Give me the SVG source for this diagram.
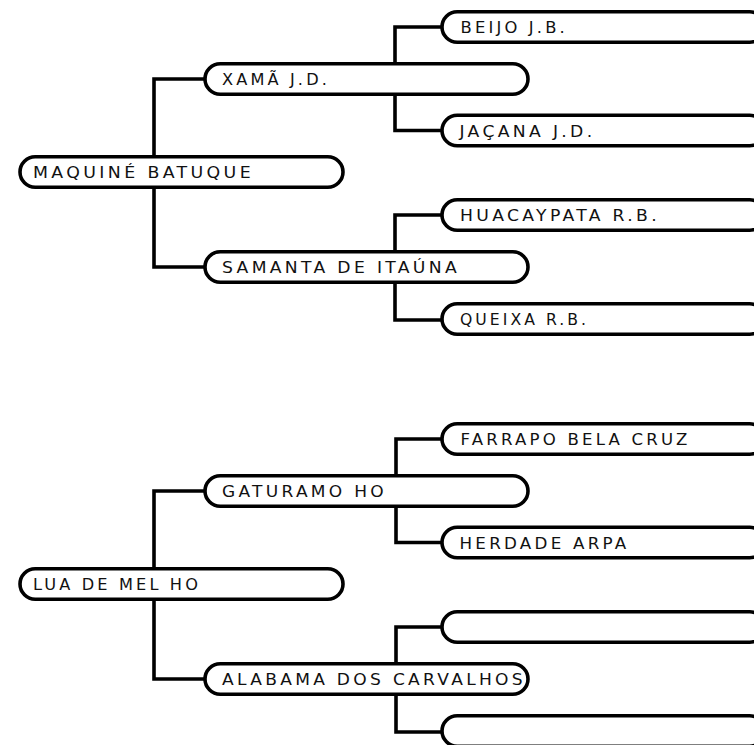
<svg xmlns="http://www.w3.org/2000/svg" width="754" height="745" viewBox="0 0 754 745">
<style>
.pill{fill:#fff;stroke:#000;stroke-width:3.6}
.lbl{font-family:"DejaVu Sans",Verdana,sans-serif;font-size:15.5px;letter-spacing:3px;fill:#111}
.con{fill:none;stroke:#000;stroke-width:3.6;stroke-linejoin:miter;stroke-linecap:square}
</style>
<rect width="754" height="745" fill="#fff"/>
<g id="connectors">
<path class="con" d="M203,79 H154 V267 H203"/>
<path class="con" d="M440,27 H395 V130.5 H440"/>
<path class="con" d="M440,215 H395 V320 H440"/>
<path class="con" d="M203,491 H154 V679 H203"/>
<path class="con" d="M440,439 H396 V542.5 H440"/>
<path class="con" d="M440,627 H396 V732 H440"/>
</g>
<g id="n-maquine"><rect class="pill" x="20" y="156.75" width="323" height="30.5" rx="15.25"/><text class="lbl" x="33" y="178" textLength="221" lengthAdjust="spacingAndGlyphs">MAQUINÉ BATUQUE</text></g>
<g id="n-xama"><rect class="pill" x="205" y="63.75" width="323" height="30.5" rx="15.25"/><text class="lbl" x="222" y="85" textLength="108" lengthAdjust="spacingAndGlyphs">XAMÃ J.D.</text></g>
<g id="n-samanta"><rect class="pill" x="205" y="251.75" width="323" height="30.5" rx="15.25"/><text class="lbl" x="222" y="273" textLength="238" lengthAdjust="spacingAndGlyphs">SAMANTA DE ITAÚNA</text></g>
<g id="n-beijo"><rect class="pill" x="442" y="11.75" width="323" height="30.5" rx="15.25"/><text class="lbl" x="460.5" y="33" textLength="107.5" lengthAdjust="spacingAndGlyphs">BEIJO J.B.</text></g>
<g id="n-jacana"><rect class="pill" x="442" y="115.25" width="323" height="30.5" rx="15.25"/><text class="lbl" x="459.5" y="136.5" textLength="136" lengthAdjust="spacingAndGlyphs">JAÇANA J.D.</text></g>
<g id="n-huacaypata"><rect class="pill" x="442" y="199.75" width="323" height="30.5" rx="15.25"/><text class="lbl" x="460" y="221" textLength="200" lengthAdjust="spacingAndGlyphs">HUACAYPATA R.B.</text></g>
<g id="n-queixa"><rect class="pill" x="442" y="303.75" width="323" height="30.5" rx="15.25"/><text class="lbl" x="460" y="325" textLength="129" lengthAdjust="spacingAndGlyphs">QUEIXA R.B.</text></g>
<g id="n-lua"><rect class="pill" x="20" y="568.75" width="323" height="30.5" rx="15.25"/><text class="lbl" x="33" y="590" textLength="168" lengthAdjust="spacingAndGlyphs">LUA DE MEL HO</text></g>
<g id="n-gaturamo"><rect class="pill" x="205" y="475.75" width="323" height="30.5" rx="15.25"/><text class="lbl" x="222" y="497" textLength="165" lengthAdjust="spacingAndGlyphs">GATURAMO HO</text></g>
<g id="n-alabama"><rect class="pill" x="205" y="663.75" width="323" height="30.5" rx="15.25"/><text class="lbl" x="222" y="685" textLength="304" lengthAdjust="spacingAndGlyphs">ALABAMA DOS CARVALHOS</text></g>
<g id="n-farrapo"><rect class="pill" x="442" y="423.75" width="323" height="30.5" rx="15.25"/><text class="lbl" x="460.5" y="445" textLength="230" lengthAdjust="spacingAndGlyphs">FARRAPO BELA CRUZ</text></g>
<g id="n-herdade"><rect class="pill" x="442" y="527.25" width="323" height="30.5" rx="15.25"/><text class="lbl" x="459.5" y="548.5" textLength="170" lengthAdjust="spacingAndGlyphs">HERDADE ARPA</text></g>
<g id="n-empty1"><rect class="pill" x="442" y="611.75" width="323" height="30.5" rx="15.25"/></g>
<g id="n-empty2"><rect class="pill" x="442" y="715.75" width="323" height="30.5" rx="15.25"/></g>
</svg>
